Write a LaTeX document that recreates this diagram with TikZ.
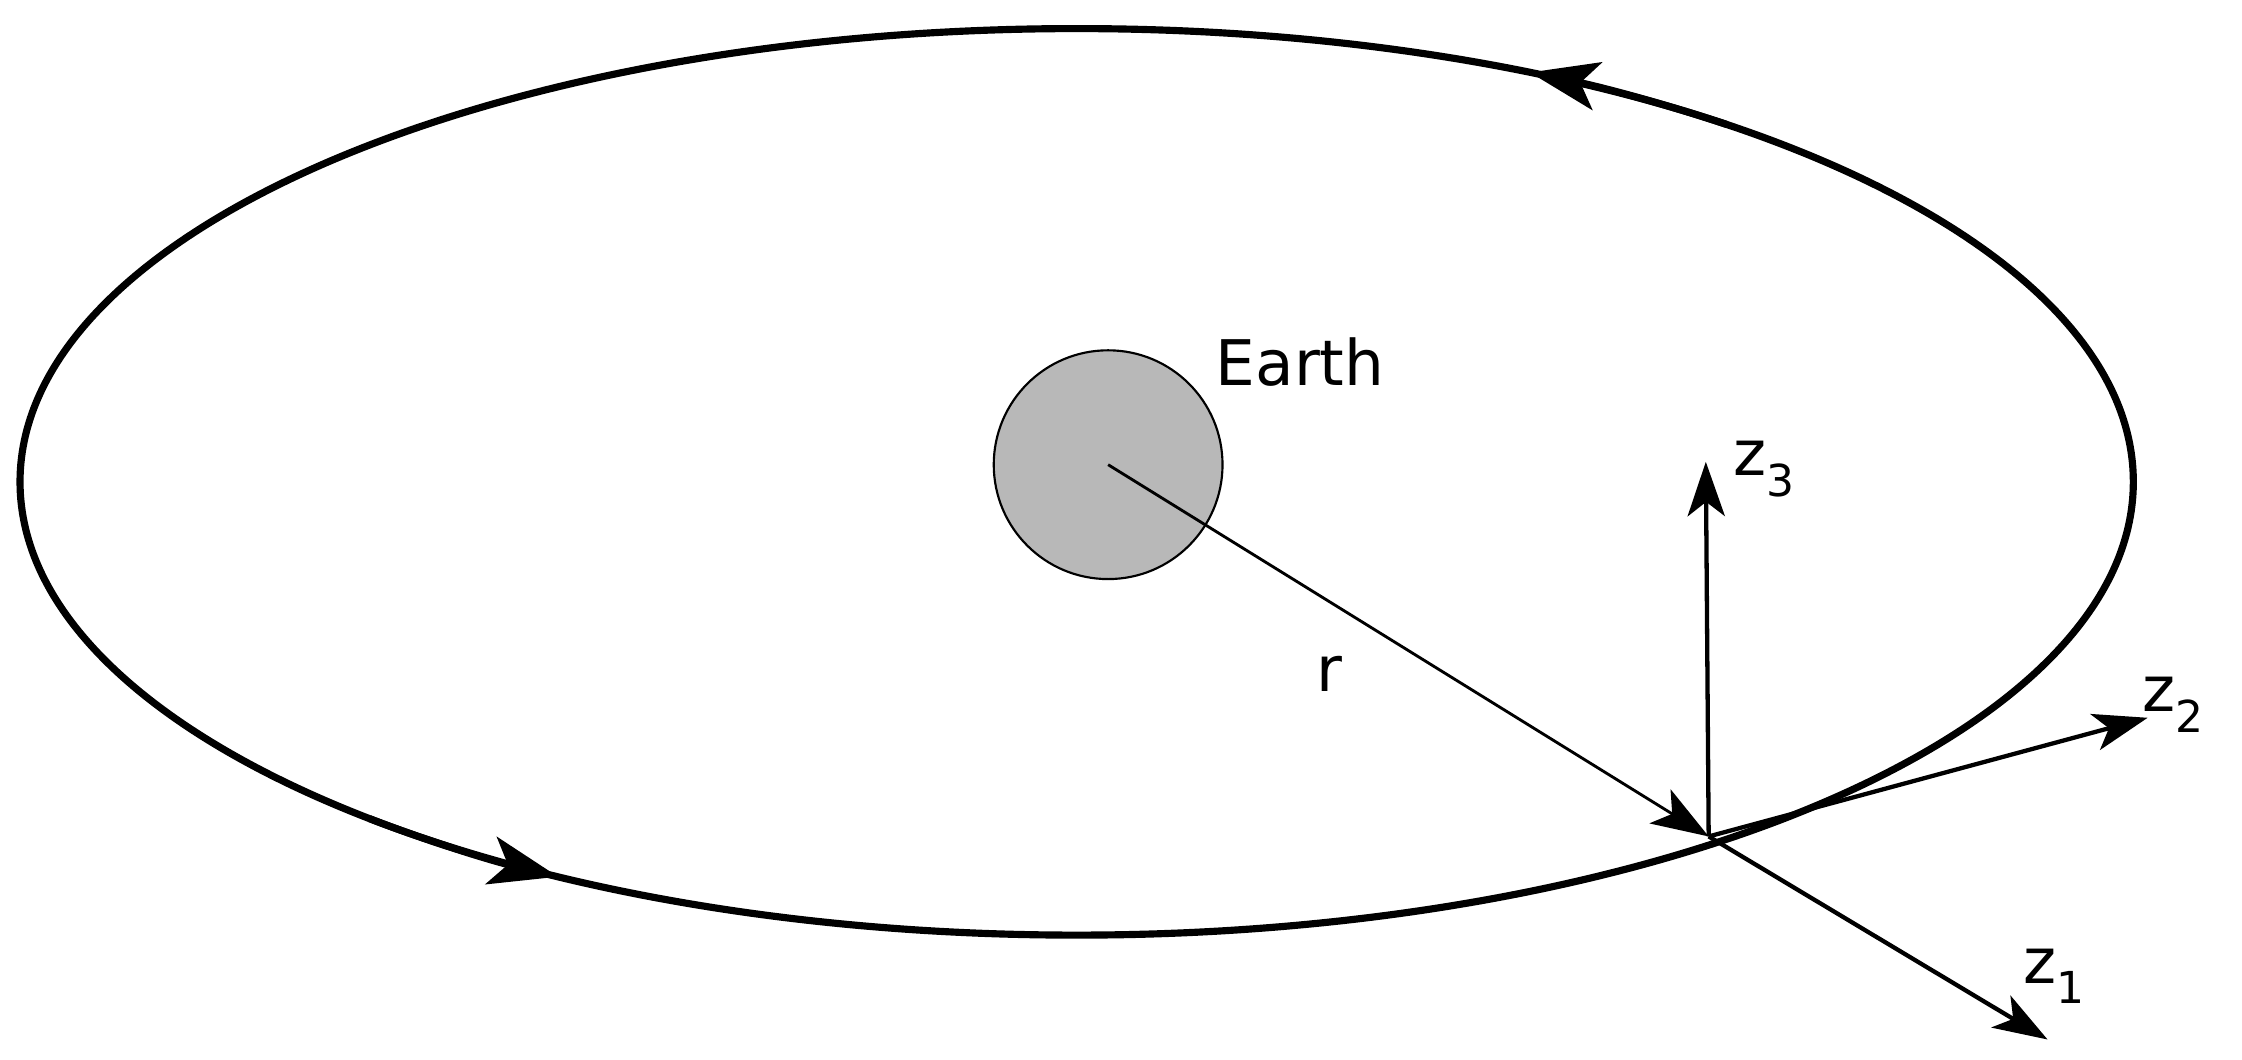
\documentclass[tikz,border=0pt]{standalone}
\usepackage{fontspec}
\setmainfont{DejaVu Sans}
\usetikzlibrary{arrows.meta}
\begin{document}
\begin{tikzpicture}[x=1pt,y=1pt,
  orbit/.style={line width=5pt},
  axis/.style={line width=3pt,-{Stealth[length=38pt,width=26pt,inset=10pt]}},
  lbl/.style={font=\fontsize{44}{50}\selectfont,inner sep=0pt}]
\useasboundingbox (0,0) rectangle (1568,741);
\coordinate (c) at (753,404);
\draw[orbit] (c) ellipse [x radius=739, y radius=317];
\draw[orbit,-{Stealth[length=48pt,width=34pt,inset=12pt]}] (c) ++(52:739 and 317) arc[start angle=52,end angle=64.6,x radius=739,y radius=317];
\draw[orbit,-{Stealth[length=48pt,width=34pt,inset=12pt]}] (c) ++(228:739 and 317) arc[start angle=228,end angle=240.6,x radius=739,y radius=317];
\node[circle,draw,line width=1.5pt,fill=black!28,minimum size=160pt,inner sep=0pt] (earth) at (775,416) {};
\coordinate (ec) at (775,416);
\coordinate (o) at (1195,156);
\draw[line width=2pt,-{Stealth[length=40pt,width=28pt,inset=10pt]}] (ec) -- (o);
\coordinate (z3) at (1193,418);
\coordinate (z2) at (1502,239);
\coordinate (z1) at (1432,14);
\draw[axis] (o) -- (z3);
\draw[axis] (o) -- (z2);
\draw[axis] (o) -- (z1);
\node[lbl,anchor=west] (el) at (850,488) {Earth};
\node[lbl] (rl) at (930,270) {r};
\node[lbl,anchor=west] (l3) at (1212,413) {z\textsubscript{3}};
\node[lbl,anchor=west] (l2) at (1498,248) {z\textsubscript{2}};
\node[lbl,anchor=west] (l1) at (1415,58) {z\textsubscript{1}};
\end{tikzpicture}
\end{document}
